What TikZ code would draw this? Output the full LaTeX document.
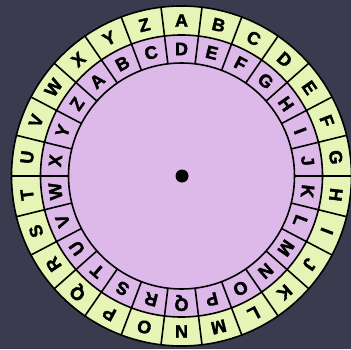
\documentclass[tikz,border=0pt]{standalone}
\usepackage{fontspec}
\setmainfont{Liberation Sans}
\newfontfamily\heavyfont{Liberation Sans Bold}[FakeBold=2]
\definecolor{bg}{HTML}{3A3B4E}
\definecolor{outerring}{HTML}{E6F5B6}
\definecolor{innerring}{HTML}{DCB9E8}
\tikzset{
  ringline/.style={draw=black, line width=1.6pt},
  letter/.style={font=\fontsize{18}{18}\heavyfont, inner sep=0pt, text=black}
}
\begin{document}
\begin{tikzpicture}[x=1pt,y=1pt]
\fill[bg] (0,0) rectangle (351,349);
\useasboundingbox (0,0) rectangle (351,349);
\coordinate (c) at (181.5,173);
\fill[outerring, ringline] (c) circle (170pt);
\fill[innerring, ringline] (c) circle (141pt);
\draw[ringline] (c) circle (113pt);
\foreach \k in {0,...,25}{
  \pgfmathsetmacro\b{90-(\k+0.5)*360/26}
  \draw[ringline] ([shift={(\b:113pt)}]c) -- ([shift={(\b:170pt)}]c);
}
\foreach \L [count=\k from 0] in {A,B,C,D,E,F,G,H,I,J,K,L,M,N,O,P,Q,R,S,T,U,V,W,X,Y,Z}{
  \pgfmathsetmacro\a{90-\k*360/26}
  \node[letter, rotate=\a-90] (o\k) at ([shift={(\a:155.5pt)}]c) {\L};
}
\foreach \L [count=\k from 0] in {D,E,F,G,H,I,J,K,L,M,N,O,P,Q,R,S,T,U,V,W,X,Y,Z,A,B,C}{
  \pgfmathsetmacro\a{90-\k*360/26}
  \node[letter, rotate=\a-90] (i\k) at ([shift={(\a:127pt)}]c) {\L};
}
\fill[black] (182,173) circle (6.5pt);
\end{tikzpicture}
\end{document}
